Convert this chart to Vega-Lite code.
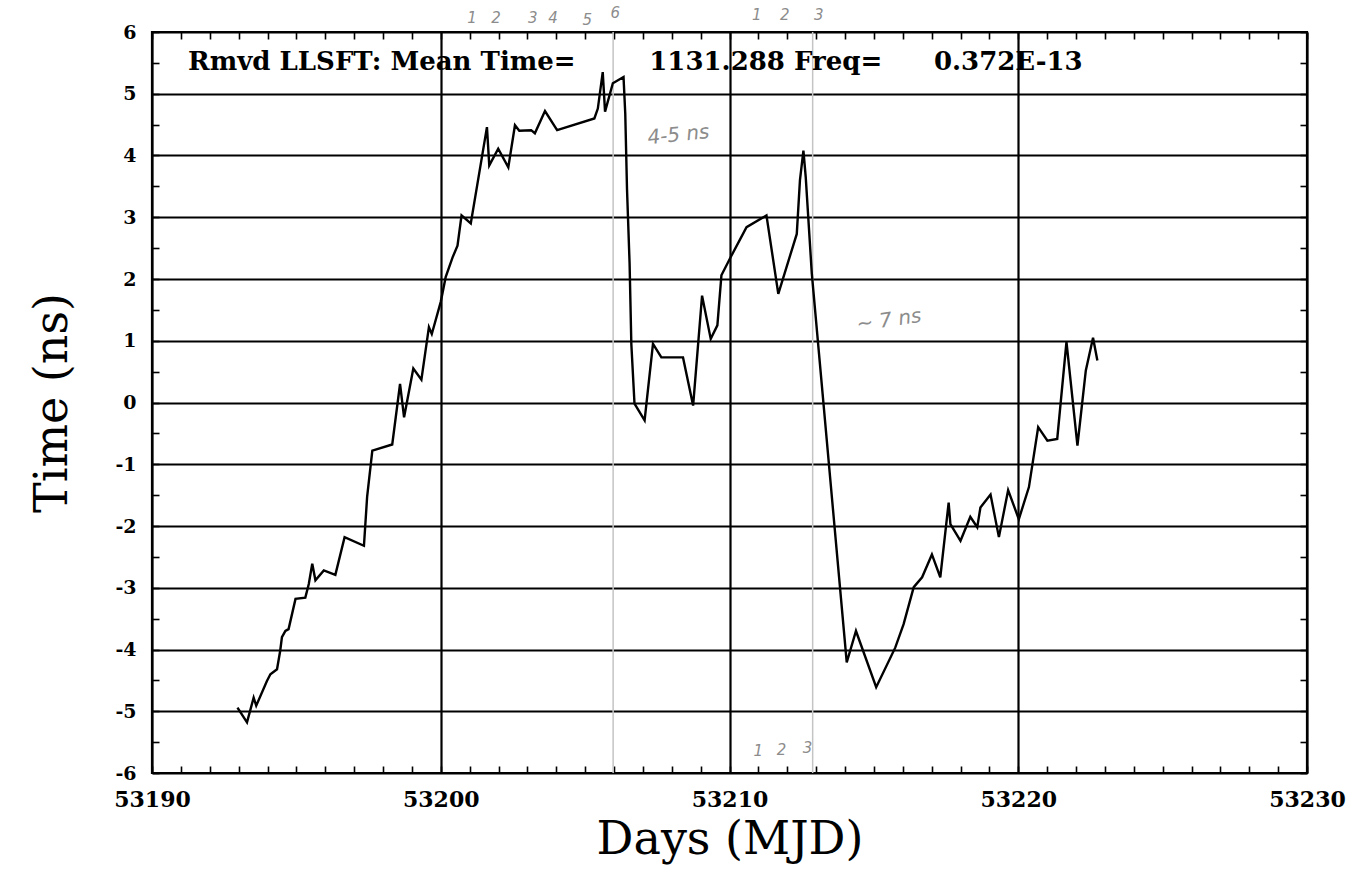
{
  "$schema": "https://vega.github.io/schema/vega-lite/v6.json",
  "width": 1155,
  "height": 741,
  "autosize": {"type": "none"},
  "padding": {"left": 152, "top": 32, "right": 40, "bottom": 102},
  "background": "white",
  "config": {
    "view": {"stroke": "black", "strokeWidth": 2.2},
    "axis": {"domain": false, "labelFlush": false, "labelOverlap": false}
  },
  "datasets": {
    "trace": [
      {"d": 53192.96, "t": -4.94}, {"d": 53193.29, "t": -5.18}, {"d": 53193.52, "t": -4.78}, {"d": 53193.61, "t": -4.91},
      {"d": 53193.98, "t": -4.51}, {"d": 53194.10, "t": -4.40}, {"d": 53194.33, "t": -4.32}, {"d": 53194.44, "t": -4.02},
      {"d": 53194.50, "t": -3.80}, {"d": 53194.62, "t": -3.70}, {"d": 53194.73, "t": -3.67}, {"d": 53194.97, "t": -3.18},
      {"d": 53195.31, "t": -3.16}, {"d": 53195.43, "t": -2.94}, {"d": 53195.55, "t": -2.61}, {"d": 53195.66, "t": -2.88},
      {"d": 53195.95, "t": -2.72}, {"d": 53196.35, "t": -2.79}, {"d": 53196.67, "t": -2.18}, {"d": 53197.34, "t": -2.32},
      {"d": 53197.45, "t": -1.53}, {"d": 53197.63, "t": -0.78}, {"d": 53198.32, "t": -0.68}, {"d": 53198.59, "t": 0.30},
      {"d": 53198.73, "t": -0.24}, {"d": 53199.05, "t": 0.55}, {"d": 53199.33, "t": 0.37}, {"d": 53199.59, "t": 1.22},
      {"d": 53199.69, "t": 1.11}, {"d": 53200.00, "t": 1.63}, {"d": 53200.17, "t": 2.03}, {"d": 53200.41, "t": 2.35},
      {"d": 53200.58, "t": 2.54}, {"d": 53200.72, "t": 3.03}, {"d": 53201.04, "t": 2.90}, {"d": 53201.60, "t": 4.46},
      {"d": 53201.68, "t": 3.84}, {"d": 53201.99, "t": 4.11}, {"d": 53202.34, "t": 3.81}, {"d": 53202.57, "t": 4.49},
      {"d": 53202.72, "t": 4.40}, {"d": 53203.13, "t": 4.41}, {"d": 53203.26, "t": 4.36}, {"d": 53203.61, "t": 4.72},
      {"d": 53204.03, "t": 4.41}, {"d": 53205.32, "t": 4.60}, {"d": 53205.44, "t": 4.76}, {"d": 53205.61, "t": 5.35},
      {"d": 53205.69, "t": 4.71}, {"d": 53205.96, "t": 5.17}, {"d": 53206.33, "t": 5.27}, {"d": 53206.39, "t": 4.68},
      {"d": 53206.45, "t": 3.46}, {"d": 53206.54, "t": 2.25}, {"d": 53206.60, "t": 0.95}, {"d": 53206.71, "t": -0.02},
      {"d": 53207.06, "t": -0.29}, {"d": 53207.35, "t": 0.95}, {"d": 53207.64, "t": 0.73}, {"d": 53208.39, "t": 0.73},
      {"d": 53208.74, "t": -0.05}, {"d": 53209.05, "t": 1.73}, {"d": 53209.35, "t": 1.03}, {"d": 53209.58, "t": 1.25},
      {"d": 53209.72, "t": 2.06}, {"d": 53210.07, "t": 2.38}, {"d": 53210.59, "t": 2.84}, {"d": 53211.28, "t": 3.03},
      {"d": 53211.69, "t": 1.76}, {"d": 53212.33, "t": 2.73}, {"d": 53212.44, "t": 3.60}, {"d": 53212.56, "t": 4.08},
      {"d": 53212.64, "t": 3.65}, {"d": 53212.85, "t": 2.09}, {"d": 53214.06, "t": -4.21}, {"d": 53214.38, "t": -3.70},
      {"d": 53215.08, "t": -4.61}, {"d": 53215.74, "t": -3.97}, {"d": 53216.03, "t": -3.59}, {"d": 53216.38, "t": -2.99},
      {"d": 53216.67, "t": -2.83}, {"d": 53217.01, "t": -2.46}, {"d": 53217.30, "t": -2.83}, {"d": 53217.59, "t": -1.62},
      {"d": 53217.65, "t": -1.97}, {"d": 53218.00, "t": -2.24}, {"d": 53218.34, "t": -1.85}, {"d": 53218.58, "t": -2.02},
      {"d": 53218.69, "t": -1.70}, {"d": 53219.04, "t": -1.49}, {"d": 53219.33, "t": -2.18}, {"d": 53219.65, "t": -1.42},
      {"d": 53220.02, "t": -1.89}, {"d": 53220.37, "t": -1.37}, {"d": 53220.69, "t": -0.40}, {"d": 53221.01, "t": -0.62},
      {"d": 53221.35, "t": -0.59}, {"d": 53221.67, "t": 0.98}, {"d": 53222.05, "t": -0.70}, {"d": 53222.34, "t": 0.52},
      {"d": 53222.59, "t": 1.05}, {"d": 53222.74, "t": 0.68}
    ],
    "pencil": [{"d": 53205.97}, {"d": 53212.88}],
    "header": [
      {"d": 53191.25, "t": 5.38, "txt": "Rmvd LLSFT: Mean Time="},
      {"d": 53207.22, "t": 5.38, "txt": "1131.288 Freq="},
      {"d": 53217.08, "t": 5.38, "txt": "0.372E-13"}
    ],
    "digits": [
      {"d": 53201.08, "t": 6.22, "txt": "1"}, {"d": 53201.91, "t": 6.22, "txt": "2"}, {"d": 53203.19, "t": 6.22, "txt": "3"},
      {"d": 53203.89, "t": 6.22, "txt": "4"}, {"d": 53205.07, "t": 6.2, "txt": "5"}, {"d": 53206.04, "t": 6.3, "txt": "6"},
      {"d": 53210.94, "t": 6.27, "txt": "1"}, {"d": 53211.91, "t": 6.27, "txt": "2"}, {"d": 53213.09, "t": 6.27, "txt": "3"},
      {"d": 53211.0, "t": -5.64, "txt": "1"}, {"d": 53211.8, "t": -5.62, "txt": "2"}, {"d": 53212.7, "t": -5.6, "txt": "3"}
    ],
    "note1": [{"d": 53208.23, "t": 4.33, "txt": "4-5 ns"}],
    "note2": [{"d": 53215.52, "t": 1.33, "txt": "~ 7 ns"}]
  },
  "layer": [
    {
      "data": {"name": "pencil"},
      "mark": {"type": "rule", "color": "#c4c4c4", "strokeWidth": 1.5},
      "encoding": {
        "x": {"field": "d", "type": "quantitative", "scale": {"domain": [53190, 53230], "nice": false, "zero": false}, "axis": null}
      }
    },
    {
      "data": {"name": "trace"},
      "mark": {"type": "line", "color": "black", "strokeWidth": 2.4},
      "encoding": {
        "x": {
          "field": "d", "type": "quantitative",
          "scale": {"domain": [53190, 53230], "nice": false, "zero": false},
          "axis": {
            "orient": "bottom",
            "values": [53190,53191,53192,53193,53194,53195,53196,53197,53198,53199,53200,53201,53202,53203,53204,53205,53206,53207,53208,53209,53210,53211,53212,53213,53214,53215,53216,53217,53218,53219,53220,53221,53222,53223,53224,53225,53226,53227,53228,53229,53230],
            "labelExpr": "datum.value % 10 === 0 ? '' + datum.value : ''",
            "grid": true, "gridColor": "black", "gridWidth": 2.2,
            "gridOpacity": {"condition": {"test": "datum.value % 10 === 0", "value": 1}, "value": 0},
            "ticks": true, "tickSize": -7, "tickColor": "black", "tickWidth": 1.6,
            "labelFont": "DejaVu Serif", "labelFontWeight": "bold", "labelFontSize": 22, "labelColor": "black", "labelPadding": 23,
            "title": "Days (MJD)", "titleFont": "DejaVu Serif", "titleFontWeight": "normal", "titleFontSize": 46, "titleColor": "black", "titlePadding": 7
          }
        },
        "y": {
          "field": "t", "type": "quantitative",
          "scale": {"domain": [-6, 6], "nice": false, "zero": false},
          "axis": {
            "orient": "left",
            "values": [-6,-5.5,-5,-4.5,-4,-3.5,-3,-2.5,-2,-1.5,-1,-0.5,0,0.5,1,1.5,2,2.5,3,3.5,4,4.5,5,5.5,6],
            "labelExpr": "datum.value % 1 === 0 ? '' + datum.value : ''",
            "grid": true, "gridColor": "black", "gridWidth": 2.2,
            "gridOpacity": {"condition": {"test": "datum.value % 1 === 0", "value": 1}, "value": 0},
            "ticks": true, "tickSize": -7, "tickColor": "black", "tickWidth": 1.6,
            "labelFont": "DejaVu Serif", "labelFontWeight": "bold", "labelFontSize": 19, "labelColor": "black", "labelPadding": 23,
            "title": "Time (ns)", "titleFont": "DejaVu Serif", "titleFontWeight": "normal", "titleFontSize": 46, "titleColor": "black", "titlePadding": 38
          }
        }
      }
    },
    {
      "data": {"name": "trace"},
      "mark": {"type": "point", "opacity": 0},
      "encoding": {
        "x": {
          "field": "d", "type": "quantitative",
          "scale": {"domain": [53190, 53230], "nice": false, "zero": false},
          "axis": {
            "orient": "top",
            "values": [53190,53191,53192,53193,53194,53195,53196,53197,53198,53199,53200,53201,53202,53203,53204,53205,53206,53207,53208,53209,53210,53211,53212,53213,53214,53215,53216,53217,53218,53219,53220,53221,53222,53223,53224,53225,53226,53227,53228,53229,53230],
            "labels": false, "grid": false, "ticks": true, "tickSize": -7, "tickColor": "black", "tickWidth": 1.6, "title": null
          }
        },
        "y": {
          "field": "t", "type": "quantitative",
          "scale": {"domain": [-6, 6], "nice": false, "zero": false},
          "axis": {
            "orient": "right",
            "values": [-6,-5.5,-5,-4.5,-4,-3.5,-3,-2.5,-2,-1.5,-1,-0.5,0,0.5,1,1.5,2,2.5,3,3.5,4,4.5,5,5.5,6],
            "labels": false, "grid": false, "ticks": true, "tickSize": -7, "tickColor": "black", "tickWidth": 1.6, "title": null
          }
        }
      }
    },
    {
      "data": {"name": "header"},
      "mark": {"type": "text", "align": "left", "baseline": "alphabetic", "font": "DejaVu Serif", "fontWeight": "bold", "fontSize": 26, "color": "black"},
      "encoding": {
        "x": {"field": "d", "type": "quantitative", "scale": {"domain": [53190, 53230], "nice": false, "zero": false}, "axis": null},
        "y": {"field": "t", "type": "quantitative", "scale": {"domain": [-6, 6], "nice": false, "zero": false}, "axis": null},
        "text": {"field": "txt"}
      }
    },
    {
      "data": {"name": "digits"},
      "mark": {"type": "text", "align": "center", "baseline": "middle", "font": "DejaVu Sans", "fontStyle": "italic", "fontSize": 15, "color": "#8c8c8c"},
      "encoding": {
        "x": {"field": "d", "type": "quantitative", "scale": {"domain": [53190, 53230], "nice": false, "zero": false}, "axis": null},
        "y": {"field": "t", "type": "quantitative", "scale": {"domain": [-6, 6], "nice": false, "zero": false}, "axis": null},
        "text": {"field": "txt"}
      }
    },
    {
      "data": {"name": "note1"},
      "mark": {"type": "text", "align": "center", "baseline": "middle", "font": "DejaVu Sans", "fontStyle": "italic", "fontSize": 20, "angle": 354, "color": "#8c8c8c"},
      "encoding": {
        "x": {"field": "d", "type": "quantitative", "scale": {"domain": [53190, 53230], "nice": false, "zero": false}, "axis": null},
        "y": {"field": "t", "type": "quantitative", "scale": {"domain": [-6, 6], "nice": false, "zero": false}, "axis": null},
        "text": {"field": "txt"}
      }
    },
    {
      "data": {"name": "note2"},
      "mark": {"type": "text", "align": "center", "baseline": "middle", "font": "DejaVu Sans", "fontStyle": "italic", "fontSize": 20, "angle": 352, "color": "#8c8c8c"},
      "encoding": {
        "x": {"field": "d", "type": "quantitative", "scale": {"domain": [53190, 53230], "nice": false, "zero": false}, "axis": null},
        "y": {"field": "t", "type": "quantitative", "scale": {"domain": [-6, 6], "nice": false, "zero": false}, "axis": null},
        "text": {"field": "txt"}
      }
    }
  ],
  "resolve": {"axis": {"x": "independent", "y": "independent"}}
}
